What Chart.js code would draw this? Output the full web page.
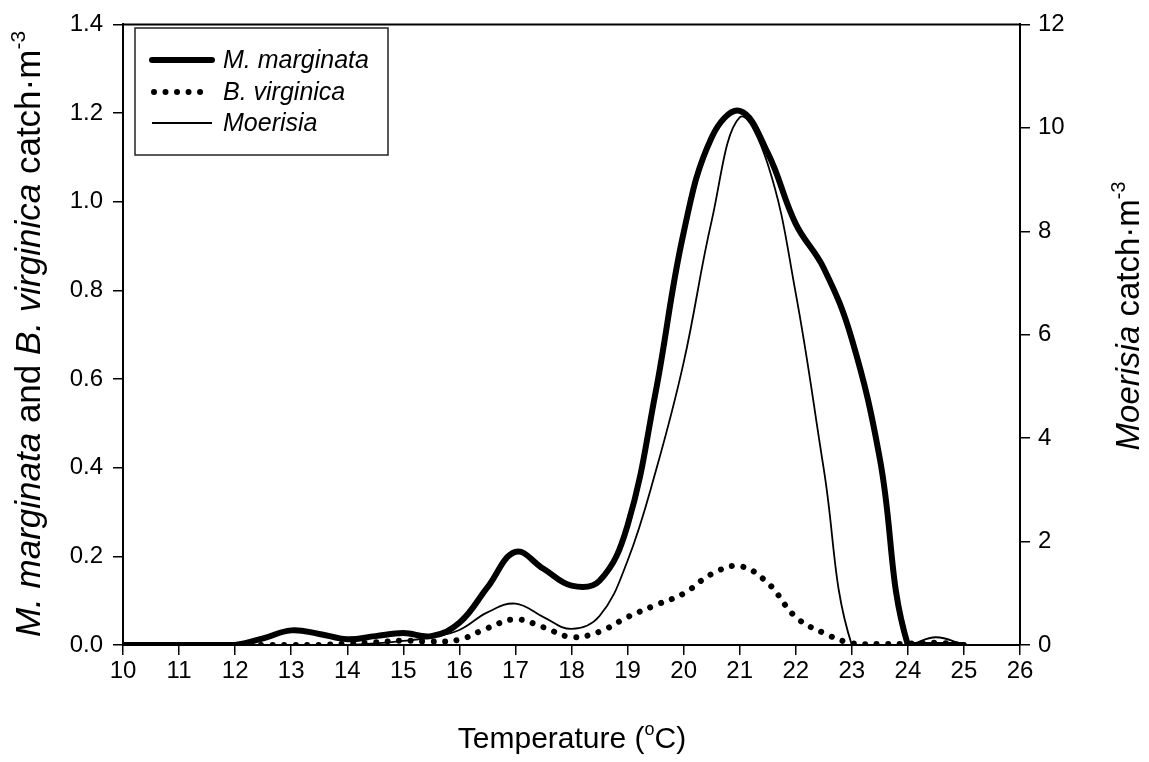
<!DOCTYPE html>
<html>
<head>
<meta charset="utf-8">
<script src="https://cdn.jsdelivr.net/npm/chart.js@4.4.0/dist/chart.umd.min.js"></script>
<style>
  html, body { margin: 0; padding: 0; background: #fff; }
</style>
</head>
<body>
<canvas id="tempChart" width="1149" height="762"></canvas>
<script>
// valores (passo de 0,5 °C)
const temps = [10, 10.5, 11, 11.5, 12, 12.5, 13, 13.5, 14, 14.5, 15, 15.5, 16, 16.5, 17, 17.5,
               18, 18.5, 19, 19.5, 20, 20.5, 21, 21.5, 22, 22.5, 23, 23.5, 24, 24.5, 25];

const margValues = [0, 0, 0, 0, 0, 0.015, 0.033, 0.025, 0.013, 0.02, 0.027, 0.02, 0.05, 0.13, 0.21, 0.172,
                    0.134, 0.145, 0.27, 0.57, 0.93, 1.145, 1.205, 1.11, 0.95, 0.85, 0.69, 0.42, 0, 0, 0];

const virgValues = [0, 0, 0, 0, 0, 0, 0, 0, 0.003, 0.006, 0.01, 0.008, 0.012, 0.038, 0.058, 0.04,
                    0.018, 0.03, 0.063, 0.09, 0.116, 0.16, 0.178, 0.14, 0.063, 0.027, 0.004, 0.002, 0.003, 0.005, 0];

// Moerisia usa o eixo da direita
const moerValues = [0, 0, 0, 0, 0, 0, 0, 0, 0, 0.03, 0.08, 0.15, 0.29, 0.63, 0.80, 0.54,
                    0.31, 0.56, 1.63, 3.35, 5.46, 8.2, 10.2, 9.3, 6.8, 3.4, 0, 0, 0, 0.15, 0];

const FONT = '"Liberation Sans", Arial, sans-serif';

function pts(ys) {
    return temps.map((x, i) => ({ x: x, y: ys[i] }));
}

// texto com itálico e sobrescrito misturados
function richText(ctx, segs, size, cx, cy, angle) {
    ctx.save();
    ctx.translate(cx, cy);
    ctx.rotate(angle);
    ctx.fillStyle = '#000';
    ctx.textBaseline = 'alphabetic';
    const fontOf = s => (s.italic ? 'italic ' : '') + (s.sup ? size * 0.6 : size) + 'px ' + FONT;
    let total = 0;
    segs.forEach(s => { ctx.font = fontOf(s); total += ctx.measureText(s.t).width; });
    let x = -total / 2;
    const base = size * 0.36;
    segs.forEach(s => {
        ctx.font = fontOf(s);
        ctx.fillText(s.t, x, s.sup ? base - size * 0.42 : base);
        x += ctx.measureText(s.t).width;
    });
    ctx.restore();
}

const decor = {
    id: 'decor',
    afterDraw(chart) {
        const ctx = chart.ctx;
        const a = chart.chartArea;

        // linha de cima do quadro
        ctx.save();
        ctx.strokeStyle = '#000';
        ctx.lineWidth = 2;
        ctx.beginPath();
        ctx.moveTo(a.left - 1, a.top);
        ctx.lineTo(a.right + 1, a.top);
        ctx.stroke();

        // legenda
        ctx.lineWidth = 1.5;
        ctx.strokeStyle = '#222';
        ctx.strokeRect(135, 28, 253, 127);
        const rows = [60, 92, 123];
        chart.data.datasets.forEach((ds, i) => {
            const y = rows[i];
            ctx.save();
            ctx.strokeStyle = '#000';
            ctx.lineWidth = ds.borderWidth;
            ctx.lineCap = ds.borderCapStyle || 'butt';
            ctx.setLineDash(ds.borderDash || []);
            ctx.beginPath();
            ctx.moveTo(i === 1 ? 154 : 152, y);
            ctx.lineTo(i === 1 ? 203 : 212, y);
            ctx.stroke();
            ctx.restore();
            ctx.fillStyle = '#000';
            ctx.font = 'italic 25px ' + FONT;
            ctx.textBaseline = 'middle';
            ctx.fillText(ds.label, 223, y + 1);
        });
        ctx.restore();

        // títulos dos eixos
        richText(ctx, [
            { t: 'M. marginata', italic: true },
            { t: ' and ' },
            { t: 'B. virginica', italic: true },
            { t: ' catch\u00B7m' },
            { t: '-3', sup: true }
        ], 35, 27, 334, -Math.PI / 2);

        richText(ctx, [
            { t: 'Moerisia', italic: true },
            { t: ' catch\u00B7m' },
            { t: '-3', sup: true }
        ], 33, 1127, 316, -Math.PI / 2);

        richText(ctx, [
            { t: 'Temperature (' },
            { t: 'o', sup: true },
            { t: 'C)' }
        ], 30, 572, 737, 0);
    }
};

const axisGrid = { drawOnChartArea: false, tickLength: 10, color: '#000', lineWidth: 1.5 };
const axisBorder = { color: '#000', width: 2 };
const tickFont = { family: FONT, size: 24 };

new Chart(document.getElementById('tempChart').getContext('2d'), {
    type: 'line',
    data: {
        datasets: [
            {
                label: 'M. marginata',
                data: pts(margValues),
                yAxisID: 'y',
                borderColor: '#000',
                borderWidth: 6,
                borderCapStyle: 'round',
                pointRadius: 0,
                tension: 0.4,
            },
            {
                label: 'B. virginica',
                data: pts(virgValues),
                yAxisID: 'y',
                borderColor: '#000',
                borderWidth: 6,
                borderCapStyle: 'round',
                borderDash: [0.01, 11.5],
                pointRadius: 0,
                tension: 0.4,
            },
            {
                label: 'Moerisia',
                data: pts(moerValues),
                yAxisID: 'y2',
                borderColor: '#000',
                borderWidth: 1.8,
                pointRadius: 0,
                tension: 0.4,
            }
        ]
    },
    options: {
        responsive: false,
        animation: false,
        layout: { padding: { top: 18, left: 0, right: 0, bottom: 0 } },
        plugins: {
            legend: { display: false },
            tooltip: { enabled: false },
        },
        scales: {
            x: {
                type: 'linear',
                min: 10,
                max: 26,
                ticks: { stepSize: 1, color: '#000', font: tickFont, padding: 2 },
                grid: axisGrid,
                border: axisBorder,
                afterFit: s => { s.height = 117; }
            },
            y: {
                position: 'left',
                min: 0,
                max: 1.4,
                ticks: { stepSize: 0.2, color: '#000', font: tickFont, padding: 10, callback: v => v.toFixed(1) },
                grid: axisGrid,
                border: axisBorder,
                afterFit: s => { s.width = 123; }
            },
            y2: {
                position: 'right',
                min: 0,
                max: 12,
                ticks: { stepSize: 2, color: '#000', font: tickFont, padding: 8 },
                grid: axisGrid,
                border: axisBorder,
                afterFit: s => { s.width = 129; }
            }
        }
    },
    plugins: [decor]
});
</script>
</body>
</html>
